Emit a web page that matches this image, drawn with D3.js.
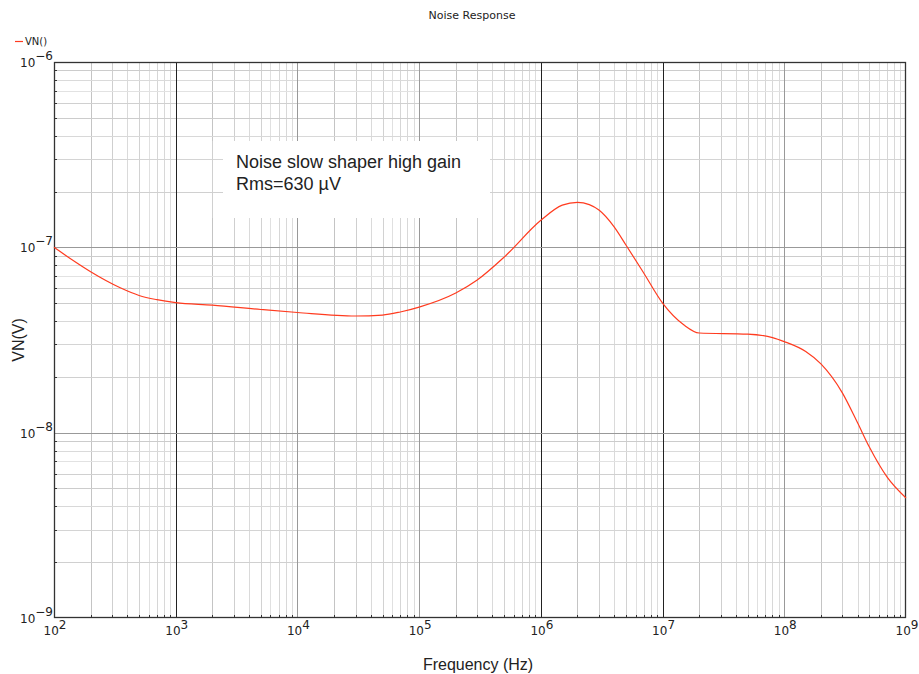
<!DOCTYPE html>
<html><head><meta charset="utf-8">
<script src="https://cdn.jsdelivr.net/npm/d3@7"></script>
<style>body{margin:0;background:#fff}svg{display:block}</style>
</head><body>
<script>
// Data
const freq = [100,150,200,350,500,700,1e3,2e3,5e3,1e4,3e4,5e4,7e4,1e5,2e5,3e5,5e5,1e6,1.5e6,2e6,2.5e6,3e6,4e6,5e6,7e6,1e7,1.5e7,2e7,5e7,8e7,1e8,1.5e8,2e8,3e8,4e8,5e8,7e8,1e9];
const vn   = [1.0e-7,8.33e-8,7.38e-8,6.05e-8,5.5e-8,5.22e-8,5.03e-8,4.88e-8,4.62e-8,4.45e-8,4.26e-8,4.31e-8,4.48e-8,4.76e-8,5.67e-8,6.66e-8,8.86e-8,1.40e-7,1.69e-7,1.75e-7,1.7e-7,1.59e-7,1.29e-7,1.03e-7,7.27e-8,5.0e-8,3.81e-8,3.45e-8,3.4e-8,3.26e-8,3.1e-8,2.74e-8,2.35e-8,1.64e-8,1.13e-8,8.36e-9,5.75e-9,4.44e-9];
const xExponents = [2,3,4,5,6,7,8,9];
const yExponents = [-9,-8,-7,-6];
const title = "Noise Response";
const seriesName = "VN()";
const xTitle = "Frequency (Hz)";
const yTitle = "VN(V)";
const noteLines = ["Noise slow shaper high gain","Rms=630 \u00b5V"];
const darkX = [3,6,7];

const W=919,H=674;
const L=54,R=906,T=62,B=618;
const svg=d3.select("body").append("svg").attr("width",W).attr("height",H);
const x=d3.scaleLog().domain([1e2,1e9]).range([L,R]);
const y=d3.scaleLog().domain([1e-9,1e-6]).range([B,T]);

const minorX=[],minorY=[];
for(let e=2;e<9;e++)for(let m=2;m<=9;m++)minorX.push(m*Math.pow(10,e));
for(let e=-9;e<-6;e++)for(let m=2;m<=9;m++)minorY.push(m*Math.pow(10,e));

const g=svg.append("g");
// minor grid
g.selectAll(".mx").data(minorX).enter().append("line")
 .attr("x1",d=>Math.round(x(d))+0.5).attr("x2",d=>Math.round(x(d))+0.5).attr("y1",T).attr("y2",B)
 .attr("stroke",(d,i)=>[ "#c4c4c4","#cfcfcf","#dadada","#d2d2d2","#e0e0e0","#d6d6d6","#d8d8d8","#dcdcdc"][i%8]).attr("stroke-width",1);
g.selectAll(".my").data(minorY).enter().append("line")
 .attr("y1",d=>Math.round(y(d))+0.5).attr("y2",d=>Math.round(y(d))+0.5).attr("x1",L).attr("x2",R)
 .attr("stroke",(d,i)=>["#d0d0d0","#d4d4d4","#d8d8d8","#cccccc","#d0d0d0","#e2e2e2","#dadada","#cccccc"][i%8]).attr("stroke-width",1);
// major grid
g.selectAll(".Mx").data(xExponents.slice(1,-1)).enter().append("line")
 .attr("x1",d=>Math.round(x(Math.pow(10,d)))+0.5).attr("x2",d=>Math.round(x(Math.pow(10,d)))+0.5).attr("y1",T).attr("y2",B)
 .attr("stroke",d=>darkX.includes(d)?"#222":"#999").attr("stroke-width",1);
g.selectAll(".My").data(yExponents.slice(1,-1)).enter().append("line")
 .attr("y1",d=>Math.round(y(Math.pow(10,d)))+0.5).attr("y2",d=>Math.round(y(Math.pow(10,d)))+0.5).attr("x1",L).attr("x2",R)
 .attr("stroke","#999").attr("stroke-width",1);

// annotation box
svg.append("rect").attr("x",223).attr("y",141).attr("width",267).attr("height",77).attr("fill","#fff");
svg.append("line").attr("x1",Math.round(x(2e3))+0.5).attr("x2",Math.round(x(2e3))+0.5).attr("y1",141).attr("y2",218).attr("stroke","#d0d0d0");
svg.selectAll(".note").data(noteLines).enter().append("text")
 .attr("x",236).attr("y",(d,i)=>168+i*22).attr("font-family","Liberation Sans, Arial, sans-serif")
 .attr("font-size",18).attr("fill","#222").text(d=>d);

// frame
svg.append("rect").attr("x",L+0.5).attr("y",T+0.5).attr("width",R-L-1).attr("height",B-T-1)
 .attr("fill","none").attr("stroke","#333").attr("stroke-width",1.3);

// inward minor ticks
svg.selectAll(".tx").data(minorX).enter().append("line")
 .attr("x1",d=>Math.round(x(d))+0.5).attr("x2",d=>Math.round(x(d))+0.5).attr("y1",B).attr("y2",B-3).attr("stroke","#333");
svg.selectAll(".ty").data(minorY).enter().append("line")
 .attr("y1",d=>Math.round(y(d))+0.5).attr("y2",d=>Math.round(y(d))+0.5).attr("x1",L).attr("x2",L+3).attr("stroke","#333");

// curve
const line=d3.line().x(d=>x(d[0])).y(d=>y(d[1])).curve(d3.curveMonotoneX);
svg.append("path").datum(freq.map((f,i)=>[f,vn[i]])).attr("d",line)
 .attr("fill","none").attr("stroke","#ff3b1f").attr("stroke-width",1.2);

const ff="DejaVu Sans, Verdana, sans-serif";
// x tick labels
const xl=svg.selectAll(".xl").data(xExponents).enter().append("text")
 .attr("x",d=>x(Math.pow(10,d))+1).attr("y",635).attr("text-anchor","middle")
 .attr("font-family",ff).attr("font-size",12).attr("fill","#222");
xl.append("tspan").text("10");
xl.append("tspan").attr("dy",-6).attr("font-size",12).text(d=>d);
// y tick labels
const yl=svg.selectAll(".yl").data(yExponents).enter().append("text")
 .attr("x",53).attr("y",d=>y(Math.pow(10,d))+5).attr("text-anchor","end")
 .attr("font-family",ff).attr("font-size",12).attr("fill","#222");
yl.append("tspan").text("10");
yl.append("tspan").attr("dy",-7).attr("font-size",12).text(d=>"\u2212"+(-d));

// titles
svg.append("text").attr("x",472).attr("y",19).attr("text-anchor","middle").attr("font-family",ff)
 .attr("font-size",11).attr("fill","#222").text(title);
svg.append("text").attr("x",478).attr("y",670).attr("text-anchor","middle").attr("font-family","Liberation Sans, Arial, sans-serif")
 .attr("font-size",16).attr("fill","#222").text(xTitle);
svg.append("text").attr("transform","translate(24,340) rotate(-90)").attr("text-anchor","middle").attr("font-family","Liberation Sans, Arial, sans-serif")
 .attr("font-size",16).attr("fill","#222").text(yTitle);
// legend
svg.append("line").attr("x1",15).attr("x2",23).attr("y1",41.5).attr("y2",41.5).attr("stroke","#ff3b1f").attr("stroke-width",1.2);
svg.append("text").attr("x",25).attr("y",45).attr("font-family",ff).attr("font-size",10).attr("fill","#222").text(seriesName);
</script>
</body></html>
